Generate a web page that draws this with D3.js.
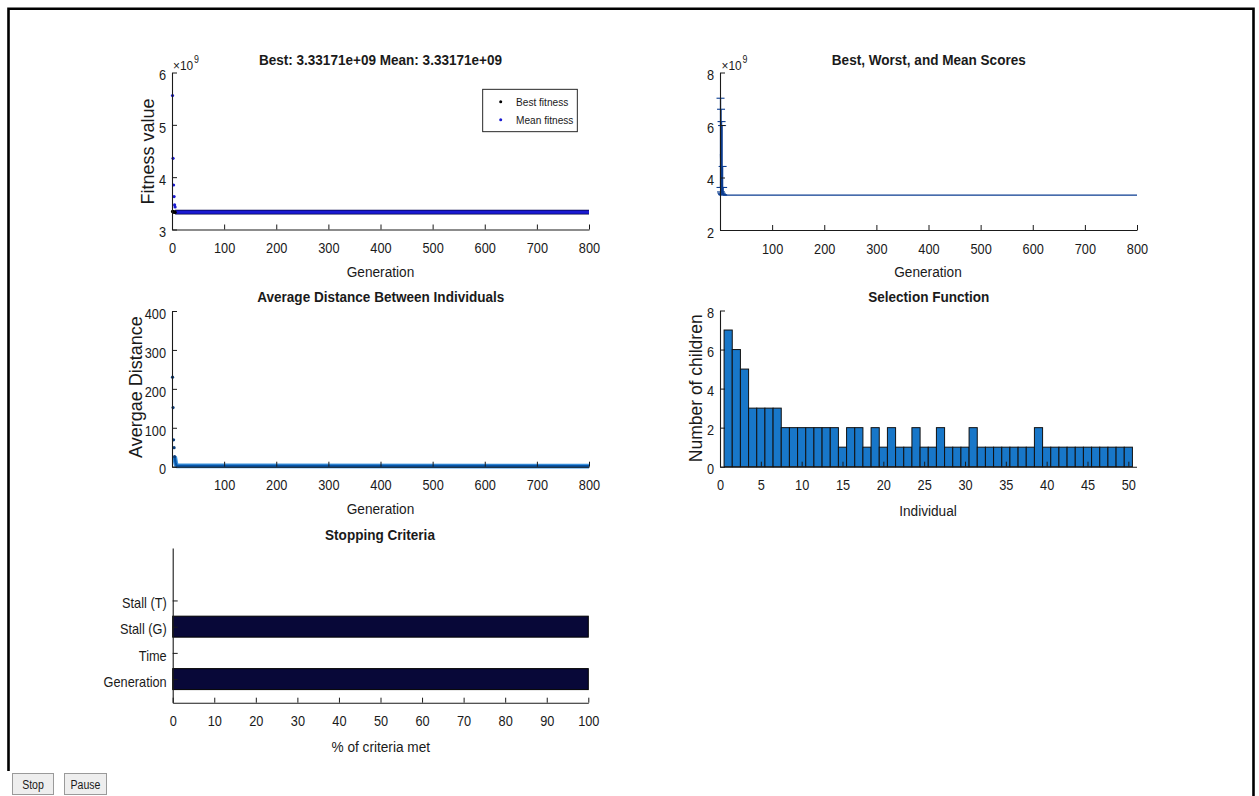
<!DOCTYPE html>
<html>
<head>
<meta charset="utf-8">
<script src="https://cdn.jsdelivr.net/npm/d3@7"></script>
<style>
  html, body { margin: 0; padding: 0; background: #fff; }
  svg { display: block; }
  text { font-family: "Liberation Sans", Arial, Helvetica, sans-serif; fill: #1a1a1a; }
  .ttl { font-weight: bold; font-size: 15.4px; }
  .tick text { font-size: 14.5px; }
  .xlab { font-size: 15.5px; }
  .ylab { font-size: 18px; }
</style>
</head>
<body>
<svg id="fig" width="1259" height="796"></svg>
<script>
// ---- Fitness (best / mean) per generation, values in units of 1e9 ----
const bestGen      = [1, 2, 3, 4, 5, 6, 800];
const bestFitness  = [3.345, 3.340, 3.336, 3.334, 3.332, 3.33171, 3.33171];
const meanGen      = [1, 2, 3, 4, 5, 6, 7, 800];
const meanFitness  = [5.56, 4.36, 3.85, 3.63, 3.47, 3.43, 3.33171, 3.33171];
const fitnessTicksX = [0, 100, 200, 300, 400, 500, 600, 700, 800];
const fitnessTicksY = [3, 4, 5, 6];

// ---- Score range (best / worst / mean), units of 1e9 ----
const rangeGen   = [1, 2, 3, 4, 5, 6];
const rangeBest  = [3.62, 3.45, 3.40, 3.36, 3.34, 3.335];
const rangeWorst = [7.02, 6.60, 6.13, 5.98, 4.42, 3.62];
const rangeMeanGen = [1, 2, 3, 4, 5, 6, 7, 800];
const rangeMean  = [4.90, 4.10, 3.70, 3.50, 3.40, 3.35, 3.33171, 3.33171];
const genTicks   = [100, 200, 300, 400, 500, 600, 700, 800];
const rangeTicksY = [2, 4, 6, 8];

// ---- Average distance between individuals ----
const distGen     = [1, 2, 3, 4, 5, 6, 7, 8, 9, 10, 800];
const avgDistance = [230, 152, 69, 49, 26, 18, 10, 5, 3, 2, 1.6];
const distTicksY  = [0, 100, 200, 300, 400];

// ---- Selection function: children per individual ----
const individuals = d3.range(1, 51);
const children = [7, 6, 5, 3, 3, 3, 3, 2, 2, 2,
                  2, 2, 2, 2, 1, 2, 2, 1, 2, 1,
                  2, 1, 1, 2, 1, 1, 2, 1, 1, 1,
                  2, 1, 1, 1, 1, 1, 1, 1, 2, 1,
                  1, 1, 1, 1, 1, 1, 1, 1, 1, 1];
const selTicksX = [0, 5, 10, 15, 20, 25, 30, 35, 40, 45, 50];
const selTicksY = [0, 2, 4, 6, 8];

// ---- Stopping criteria ----
const criteria = ["Generation", "Time", "Stall (G)", "Stall (T)"];
const criteriaMet = [100, 0, 100, 0];
const pctTicks = [0, 10, 20, 30, 40, 50, 60, 70, 80, 90, 100];

const svg = d3.select("#fig");
svg.append("rect").attr("width", 1259).attr("height", 796).attr("fill", "#fff");

// figure frame
svg.append("path")
  .attr("d", "M8.5,771 V8.8 H1253.5 V796")
  .attr("fill", "none").attr("stroke", "#000").attr("stroke-width", 2.6);

const plain = d3.format("~g");
const SQUEEZE = 0.88;

// condensed lettering for horizontal text
function squeeze(node) {
  const w = node.getComputedTextLength();
  node.setAttribute("textLength", (w * SQUEEZE).toFixed(2));
  node.setAttribute("lengthAdjust", "spacingAndGlyphs");
  return w * SQUEEZE;
}

// MATLAB-style axes: left and bottom only, inward ticks
function drawAxes(g, x, y, xt, yt, opts = {}) {
  const ax = d3.axisBottom(x).tickValues(xt).tickSizeInner(-5).tickSizeOuter(0).tickPadding(13.5)
    .tickFormat(opts.xfmt || plain);
  const gx = g.append("g").attr("transform", `translate(0,${y.range()[0]})`).call(ax);
  const ay = d3.axisLeft(y).tickValues(yt).tickSizeInner(-5).tickSizeOuter(0).tickPadding(6)
    .tickFormat(opts.yfmt || plain);
  const gy = g.append("g").attr("transform", `translate(${x.range()[0]},0)`).call(ay);
  [gx, gy].forEach(a => {
    a.selectAll("path.domain").attr("stroke", "#1a1a1a").attr("stroke-width", 1.1);
    a.selectAll(".tick line").attr("stroke", "#1a1a1a").attr("stroke-width", 1);
    a.selectAll(".tick text").attr("fill", "#1a1a1a").classed("sq", true);
    a.attr("font-family", null).attr("font-size", null);
  });
  gy.selectAll(".tick text").attr("dy", "0.5em");
  return { gx, gy };
}

function title(txt, cx, by) {
  svg.append("text").attr("class", "ttl sq").attr("x", cx).attr("y", by)
    .attr("text-anchor", "middle").text(txt);
}
function xlabel(txt, cx, by) {
  svg.append("text").attr("class", "xlab sq").attr("x", cx).attr("y", by)
    .attr("text-anchor", "middle").text(txt);
}
function ylabel(txt, bx, cy, size) {
  svg.append("text").attr("class", "ylab")
    .attr("transform", `translate(${bx},${cy}) rotate(-90)`)
    .attr("text-anchor", "middle").style("font-size", size + "px").text(txt);
}
// axis multiplier: "×10" with a raised exponent
function exponent(x0, by) {
  const base = svg.append("text").attr("x", x0).attr("y", by)
    .style("font-size", "13.5px").text("\u00d710");
  const w = squeeze(base.node());
  const sup = svg.append("text").attr("x", x0 + w + 0.8).attr("y", by - 6.5)
    .style("font-size", "10px").text("9");
  squeeze(sup.node());
}

// ================= Panel 1: best & mean fitness =================
{
  const g = svg.append("g");
  const x = d3.scaleLinear().domain([0, 800]).range([172, 589]);
  const y = d3.scaleLinear().domain([3, 6]).range([229.5, 72.5]);
  const best = bestGen.map((d, i) => [d, bestFitness[i]]);
  const mean = meanGen.map((d, i) => [d, meanFitness[i]]);
  const line = d3.line().x(d => x(d[0])).y(d => y(d[1]));
  // stalled generations form a dense band of markers
  g.append("path").datum(best.slice(-2)).attr("d", line)
    .attr("fill", "none").attr("stroke", "#000044").attr("stroke-width", 4.6);
  g.append("path").datum(mean.slice(-2)).attr("d", line)
    .attr("fill", "none").attr("stroke", "#1a1ad2").attr("stroke-width", 3.2);
  g.selectAll("circle.b").data(best.slice(0, -1)).join("circle")
    .attr("cx", d => x(d[0])).attr("cy", d => y(d[1])).attr("r", 1.6).attr("fill", "#000");
  g.selectAll("circle.m").data(mean.slice(0, -2)).join("circle")
    .attr("cx", d => x(d[0])).attr("cy", d => y(d[1])).attr("r", 1.6).attr("fill", "#1a1ad2");
  drawAxes(g, x, y, fitnessTicksX, fitnessTicksY);
  exponent(173, 69.5);
  title("Best: 3.33171e+09 Mean: 3.33171e+09", 380.5, 64.5);
  xlabel("Generation", 380.5, 277);
  ylabel("Fitness value", 153.5, 151.5, 18);

  // legend
  const lg = svg.append("g");
  lg.append("rect").attr("x", 482.7).attr("y", 89.3).attr("width", 94.6).attr("height", 42.4)
    .attr("fill", "#fff").attr("stroke", "#111").attr("stroke-width", 0.9);
  const items = [["Best fitness", "#000", 103.3], ["Mean fitness", "#1a1ad2", 121.3]];
  items.forEach(([lbl, c, cy]) => {
    lg.append("circle").attr("cx", 500.7).attr("cy", cy - 1.5).attr("r", 1.5).attr("fill", c);
    lg.append("text").attr("class", "sq").attr("x", 516).attr("y", cy + 2.5)
      .style("font-size", "11.5px").text(lbl);
  });
}

// ================= Panel 2: best, worst, mean scores =================
{
  const g = svg.append("g");
  const x = d3.scaleLinear().domain([0, 800]).range([720, 1137]);
  const y = d3.scaleLinear().domain([2, 8]).range([230, 72.5]);
  const col = "#0b3d91";
  const line = d3.line().x(d => x(d[0])).y(d => y(d[1]));
  g.append("path").datum(rangeMeanGen.map((d, i) => [d, rangeMean[i]])).attr("d", line)
    .attr("fill", "none").attr("stroke", col).attr("stroke-width", 1.3);
  const eb = g.selectAll("g.eb").data(rangeGen.map((d, i) => ({ g: d, lo: rangeBest[i], hi: rangeWorst[i] })))
    .join("g");
  eb.append("line").attr("x1", d => x(d.g)).attr("x2", d => x(d.g))
    .attr("y1", d => y(d.lo)).attr("y2", d => y(d.hi)).attr("stroke", col).attr("stroke-width", 1.3);
  eb.append("line").attr("x1", d => x(d.g) - 4).attr("x2", d => x(d.g) + 4)
    .attr("y1", d => y(d.hi)).attr("y2", d => y(d.hi)).attr("stroke", col).attr("stroke-width", 1.1);
  eb.append("line").attr("x1", d => x(d.g) - 4).attr("x2", d => x(d.g) + 4)
    .attr("y1", d => y(d.lo)).attr("y2", d => y(d.lo)).attr("stroke", col).attr("stroke-width", 1.1);
  drawAxes(g, x, y, genTicks, rangeTicksY);
  exponent(721.5, 69.5);
  title("Best, Worst, and Mean Scores", 928.8, 64.5);
  xlabel("Generation", 928, 277);
}

// ================= Panel 3: average distance =================
{
  const g = svg.append("g");
  const x = d3.scaleLinear().domain([0, 800]).range([172, 589]);
  const y = d3.scaleLinear().domain([0, 400]).range([466.7, 311]);
  const pts = distGen.map((d, i) => [d, avgDistance[i]]);
  const line = d3.line().x(d => x(d[0])).y(d => y(d[1]));
  const tail = pts.slice(4);
  g.append("path").datum(tail).attr("d", line)
    .attr("fill", "none").attr("stroke", "#3d93de").attr("stroke-width", 4.8);
  g.append("path").datum(tail).attr("d", line)
    .attr("fill", "none").attr("stroke", "#0755a8").attr("stroke-width", 2.4);
  g.selectAll("circle").data(pts.slice(0, 5)).join("circle")
    .attr("cx", d => x(d[0])).attr("cy", d => y(d[1])).attr("r", 1.6).attr("fill", "#0b3d7a");
  drawAxes(g, x, y, genTicks, distTicksY);
  title("Average Distance Between Individuals", 380.8, 301.5);
  xlabel("Generation", 380.5, 514);
  ylabel("Avergae Distance", 142, 387, 18);
}

// ================= Panel 4: selection function =================
{
  const g = svg.append("g");
  const x = d3.scaleLinear().domain([0, 51]).range([720, 1136.5]);
  const y = d3.scaleLinear().domain([0, 8]).range([466.7, 310.5]);
  g.selectAll("rect").data(individuals.map((d, i) => [d, children[i]])).join("rect")
    .attr("x", d => x(d[0] - 0.5)).attr("width", d => x(d[0] + 0.5) - x(d[0] - 0.5))
    .attr("y", d => y(d[1])).attr("height", d => y(0) - y(d[1]))
    .attr("fill", "#1877c9").attr("stroke", "#111").attr("stroke-width", 1);
  drawAxes(g, x, y, selTicksX, selTicksY);
  title("Selection Function", 928.8, 301.5);
  xlabel("Individual", 928, 515.5);
  ylabel("Number of children", 701.5, 388.3, 17.5);
}

// ================= Panel 5: stopping criteria =================
{
  const g = svg.append("g");
  const x = d3.scaleLinear().domain([0, 100]).range([172.7, 588.3]);
  const y = d3.scaleLinear().domain([0.1, 6]).range([702.7, 548]);
  const bh = 0.8 * (y(0) - y(1));
  g.selectAll("rect").data(criteria.map((c, i) => [i + 1, criteriaMet[i]])).join("rect")
    .attr("x", x(0)).attr("width", d => x(d[1]) - x(0))
    .attr("y", d => y(d[0]) - bh / 2).attr("height", bh)
    .attr("fill", "#080838").attr("stroke", "#000").attr("stroke-width", 1)
    .style("display", d => d[1] > 0 ? null : "none");
  drawAxes(g, x, y, pctTicks, [1, 2, 3, 4], { yfmt: d => criteria[d - 1] });
  title("Stopping Criteria", 380, 540);
  xlabel("% of criteria met", 380.8, 752);
}

// ================= control buttons =================
[["Stop", 12, 41], ["Pause", 64, 42]].forEach(([lbl, bx, bw]) => {
  svg.append("rect").attr("x", bx + 0.5).attr("y", 773.5).attr("width", bw).attr("height", 21)
    .attr("fill", "#eeeeee").attr("stroke", "#9a9a9a").attr("stroke-width", 1);
  svg.append("text").attr("class", "sq").attr("x", bx + bw / 2 + 0.5).attr("y", 788.5)
    .attr("text-anchor", "middle").style("font-size", "12px").text(lbl);
});

svg.selectAll("text.sq").each(function () { squeeze(this); });
</script>
</body>
</html>
